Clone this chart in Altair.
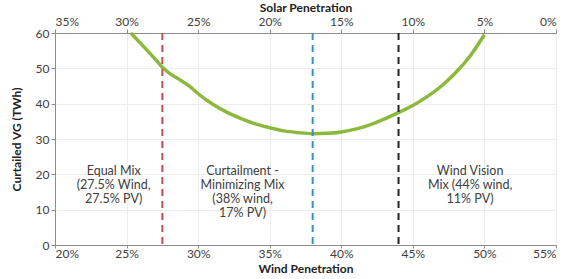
import altair as alt
import pandas as pd

# Curtailment curve: wind penetration (%) vs curtailed VG (TWh)
wind_pct = [25.3, 26, 27, 27.5, 28, 28.7, 29.5, 30, 31, 32, 33, 34, 35, 36, 37,
            38, 39, 40, 41, 42, 43, 44, 45, 46, 47, 48, 49, 50]
curtailed_twh = [60, 57, 52.6, 50.3, 48.6, 46.8, 44.6, 42.8, 39.9, 37.6, 35.8, 34.3,
                 33.2, 32.3, 31.8, 31.5, 31.6, 32, 32.8, 34, 35.6, 37.5, 39.5, 42,
                 45, 48.8, 53.5, 59.5]

# Scenario markers
scenario_wind = [27.5, 38, 44]
scenario_color = ["#c0504d", "#3b8fc9", "#262626"]

# Scenario annotations
note_wind = [24.1, 33.1, 49.0]
note_y = [22.6, 22.6, 22.6]
note_text = [
    "Equal Mix\n(27.5% Wind,\n27.5% PV)",
    "Curtailment -\nMinimizing Mix\n(38% wind,\n17% PV)",
    "Wind Vision\nMix (44% wind,\n11% PV)",
]

FONT = "Lato"
GRAY = "#404040"

curve = pd.DataFrame({"wind": wind_pct, "vg": curtailed_twh})
rules = pd.DataFrame({"wind": scenario_wind, "color": scenario_color})
notes = pd.DataFrame({"wind": note_wind, "vg": note_y, "label": note_text})

x_scale = alt.Scale(domain=[20, 55], nice=False, zero=False)
y_scale = alt.Scale(domain=[0, 60], nice=False)

style = dict(
    labelFont=FONT, labelFontSize=12, labelColor=GRAY,
    titleFont=FONT, titleFontSize=12, titleFontWeight="bold", titleColor="#222",
    domainColor="#8c8c8c", tickColor="#8c8c8c",
)
pct_ticks = [20, 25, 30, 35, 40, 45, 50, 55]

x_bottom_axis = alt.Axis(title="Wind Penetration", orient="bottom", values=pct_ticks,
                         labelExpr="datum.value + '%'", tickSize=3, labelPadding=0,
                         titlePadding=4, gridColor="#ececec", **style)
y_axis = alt.Axis(title="Curtailed VG (TWh)", values=[0, 10, 20, 30, 40, 50, 60],
                  tickSize=4, titlePadding=12, gridColor="#ececec", **style)

X = alt.X("wind:Q", scale=x_scale, axis=x_bottom_axis)
Y = alt.Y("vg:Q", scale=y_scale, axis=y_axis)

line = alt.Chart(curve).mark_line(
    color="#8db83e", strokeWidth=3.5, interpolate="monotone"
).encode(x=X, y=Y)

rule = alt.Chart(rules).mark_rule(strokeWidth=2, strokeDash=[7, 5]).encode(
    x=X,
    y=alt.value(0),
    y2=alt.value(212),
    color=alt.Color("color:N", scale=None),
)

text = alt.Chart(notes).mark_text(
    font=FONT, fontSize=12.5, color=GRAY, lineBreak="\n", baseline="top",
    align="center", lineHeight=14,
).encode(x=X, y=Y, text="label:N")

# Solar penetration shares the same positions: solar = 55% - wind
top_axis = alt.Chart(curve).mark_point(opacity=0).encode(
    x=alt.X("wind:Q", scale=x_scale,
            axis=alt.Axis(title="Solar Penetration", orient="top", grid=False,
                          values=pct_ticks, tickSize=4, labelPadding=1,
                          titlePadding=1,
                          labelExpr="(55 - datum.value) + '%'", **style)),
    y=Y,
)

base = alt.layer(line, rule, text)

chart = alt.layer(base, top_axis).resolve_scale(x="independent").properties(
    width=501, height=212,
    autosize=alt.AutoSizeParams(type="none"),
    padding={"left": 55, "top": 33, "right": 24, "bottom": 34},
).configure_view(stroke="#8c8c8c", strokeWidth=1).configure(background="white")

chart.save("out.html", embed_options={"renderer": "svg", "actions": False})
